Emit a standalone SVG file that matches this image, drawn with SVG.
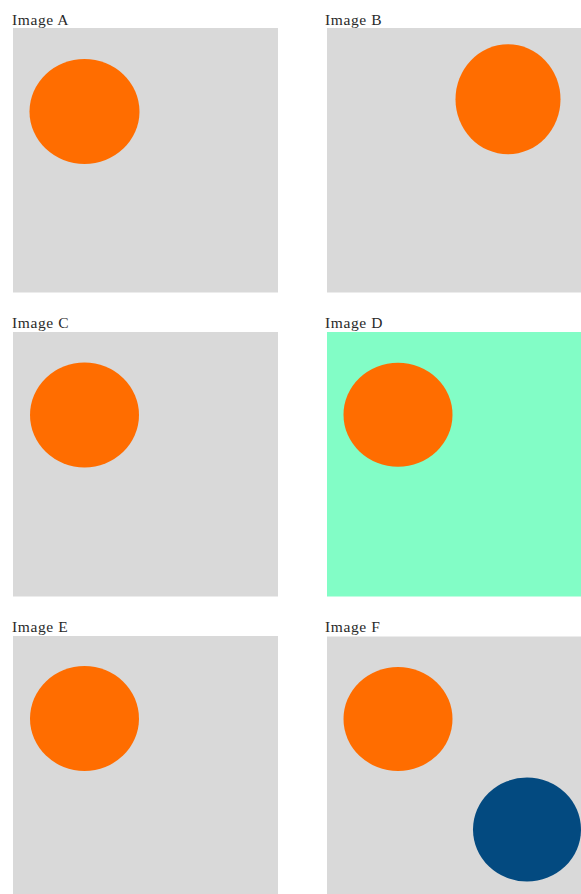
<svg xmlns="http://www.w3.org/2000/svg" width="581" height="894" viewBox="0 0 581 894">
<style>
.lbl{font-family:"Liberation Serif","DejaVu Serif",serif;font-size:15.5px;fill:#2a2a2a;letter-spacing:0.6px}
.bg{fill:#d9d9d9}
.bgd{fill:#82fdc6}
.or{fill:#ff6d00}
.bl{fill:#034a80}
</style>
<rect width="581" height="894" fill="#ffffff"/>
<g id="imageA">
<text class="lbl" x="12" y="25">Image A</text>
<rect class="bg" x="13" y="28" width="265" height="264.5"/>
<ellipse class="or" cx="84.5" cy="111.5" rx="55" ry="52.5"/>
</g>
<g id="imageB">
<text class="lbl" x="325" y="25">Image B</text>
<rect class="bg" x="327" y="28" width="254" height="264.5"/>
<ellipse class="or" cx="508" cy="99.3" rx="52.5" ry="55"/>
</g>
<g id="imageC">
<text class="lbl" x="12" y="328">Image C</text>
<rect class="bg" x="13" y="332" width="265" height="264.5"/>
<ellipse class="or" cx="84.5" cy="415" rx="54.5" ry="52.5"/>
</g>
<g id="imageD">
<text class="lbl" x="325" y="328">Image D</text>
<rect class="bgd" x="327" y="332" width="254" height="264.5"/>
<ellipse class="or" cx="398" cy="414.7" rx="54.5" ry="52"/>
</g>
<g id="imageE">
<text class="lbl" x="12" y="632">Image E</text>
<rect class="bg" x="13" y="636" width="265" height="258"/>
<ellipse class="or" cx="84.5" cy="718.5" rx="54.5" ry="52.5"/>
</g>
<g id="imageF">
<text class="lbl" x="325" y="632">Image F</text>
<rect class="bg" x="327" y="636.5" width="254" height="257.5"/>
<ellipse class="or" cx="398" cy="719" rx="54.5" ry="52"/>
<ellipse class="bl" cx="527" cy="829.5" rx="54" ry="52"/>
</g>
</svg>
